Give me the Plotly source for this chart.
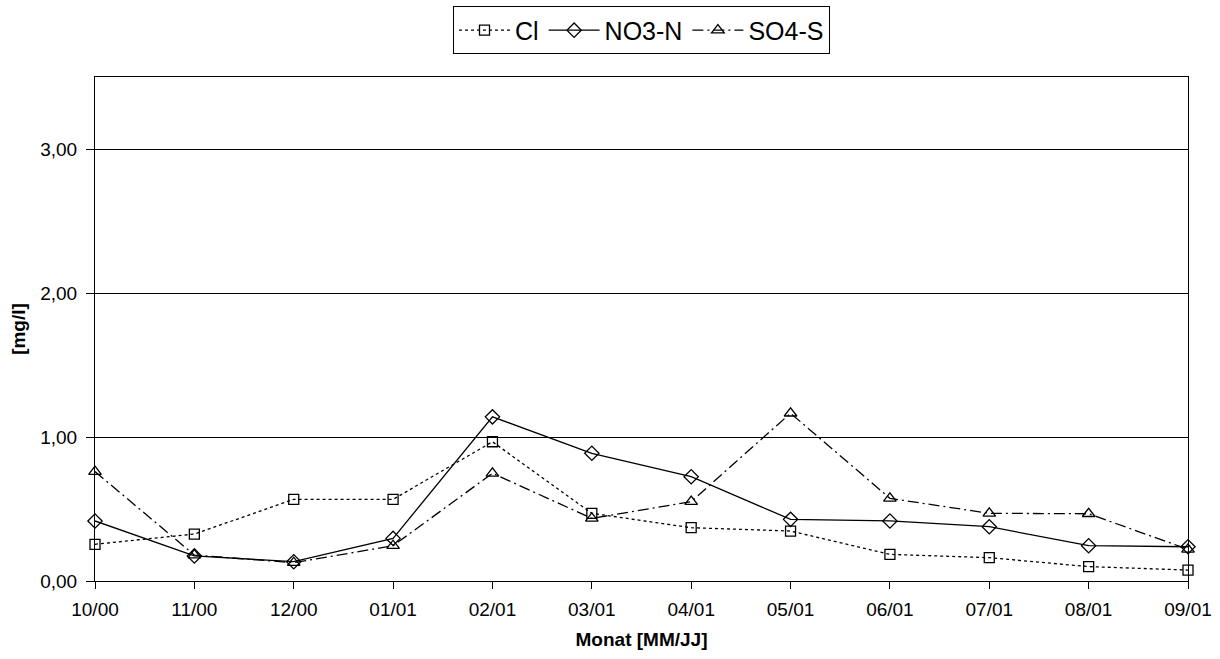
import plotly.graph_objects as go

months = ["10/00", "11/00", "12/00", "01/01", "02/01", "03/01", "04/01",
          "05/01", "06/01", "07/01", "08/01", "09/01"]
cl = [0.255, 0.326, 0.567, 0.567, 0.967, 0.47, 0.37, 0.347, 0.185, 0.162, 0.10, 0.076]
no3n = [0.417, 0.174, 0.134, 0.296, 1.14, 0.887, 0.724, 0.428, 0.417, 0.377, 0.245, 0.238]
so4s = [0.76, 0.18, 0.127, 0.245, 0.748, 0.435, 0.551, 1.165, 0.574, 0.47, 0.467, 0.22]

FONT = "Liberation Sans, Arial, sans-serif"

fig = go.Figure()

def add(name, y, dash, symbol, size):
    fig.add_trace(go.Scatter(
        x=months, y=y, name=name, mode="lines+markers",
        line=dict(color="black", width=1.3, dash=dash),
        marker=dict(symbol=symbol, size=size, color="black",
                    line=dict(color="black", width=1.3)),
        cliponaxis=False,
    ))

add("Cl", cl, "3px,3px", "square-open", 10)
add("NO3-N", no3n, "solid", "diamond-open", 11)
add("SO4-S", so4s, "11px,4px,2px,4px", "triangle-up-open", 11)

fig.update_layout(
    width=1220, height=659,
    margin=dict(l=95, r=32, t=77, b=78, autoexpand=False),
    paper_bgcolor="white", plot_bgcolor="white",
    font=dict(family=FONT, size=19, color="black"),
    separators=",.",
    showlegend=True,
    legend=dict(
        orientation="h", x=0.5, xanchor="center", y=1.14, yanchor="top",
        bordercolor="black", borderwidth=1, bgcolor="white",
        font=dict(family=FONT, size=25, color="black"),
        itemwidth=51, tracegroupgap=0,
    ),
    xaxis=dict(
        type="category", range=[0, 11], showgrid=False,
        showline=True, linecolor="black", linewidth=1, mirror=True,
        ticks="outside", ticklen=7, tickcolor="black", tickwidth=1,
        ticklabelstandoff=4,
        tickfont=dict(size=19, family=FONT),
        title=dict(text="<b>Monat [MM/JJ]</b>", font=dict(size=19, family=FONT), standoff=13),
        zeroline=False,
    ),
    yaxis=dict(
        range=[0, 3.5], dtick=1, tick0=0, tickformat=".2f",
        showgrid=True, gridcolor="black", gridwidth=1,
        showline=True, linecolor="black", linewidth=1, mirror=True,
        ticks="outside", ticklen=8, tickcolor="black", tickwidth=1,
        ticklabelstandoff=5,
        tickfont=dict(size=19, family=FONT),
        title=dict(text="<b>[mg/l]</b>", font=dict(size=19, family=FONT), standoff=9),
        zeroline=False,
    ),
)

fig.write_html("out.html")
